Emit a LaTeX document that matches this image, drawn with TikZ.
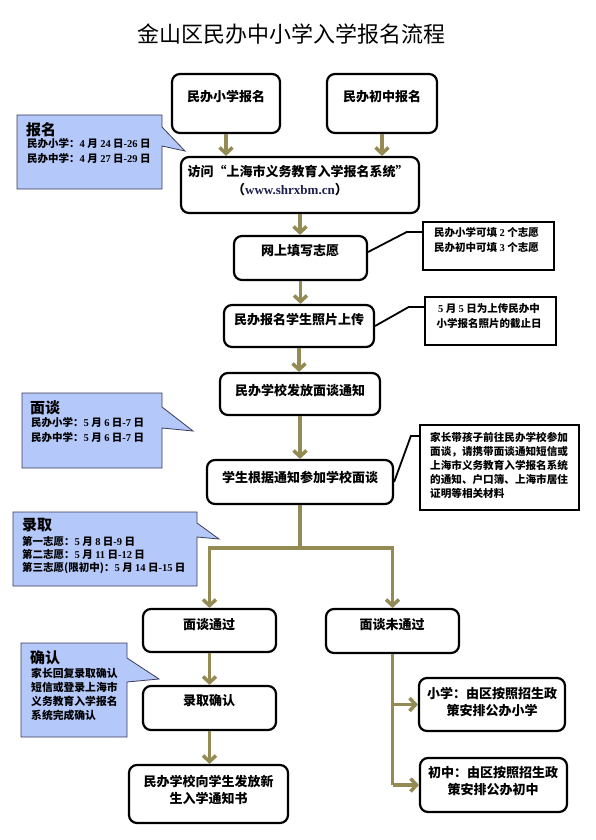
\documentclass[tikz,border=0pt]{standalone}
\usepackage{fontspec}
\setmainfont{Noto Sans CJK SC}
\newfontfamily\tm{Liberation Serif}
\usetikzlibrary{arrows.meta,calc}
\definecolor{olivec}{RGB}{148,138,84}
\definecolor{cfill}{RGB}{180,200,250}
\definecolor{cline}{RGB}{60,60,90}
\definecolor{urlc}{RGB}{30,30,80}
\newcommand\tmn[1]{{\tm\bfseries #1}}
\begin{document}
\begin{tikzpicture}[x=1pt,y=-1pt,
  box/.style={draw=black,line width=2.2pt,rounded corners=8pt,fill=white,inner sep=0pt},
  notebox/.style={draw=black,line width=2.2pt,fill=white,inner sep=0pt},
  txt/.style={font=\fontsize{13}{17}\selectfont\bfseries,align=center,inner sep=0pt},
  ntxt/.style={font=\fontsize{10.5}{15}\selectfont\bfseries,align=left,inner sep=0pt,anchor=north west},
  head/.style={font=\fontsize{15}{18}\selectfont\bfseries,inner sep=0pt,anchor=west},
  callout/.style={draw=cline,line width=0.8pt,fill=cfill},
  arr/.style={draw=olivec,line width=3.5pt,-{Straight Barb[length=6pt,width=13pt]}},
  flow/.style={draw=olivec,line width=3.5pt},
  lead/.style={draw=black,line width=1.8pt}]
\useasboundingbox (0,0) rectangle (596,840);
\fill[white] (0,0) rectangle (596,840);

\node[font=\fontsize{22}{26}\selectfont,inner sep=0pt] (title) at (291,34) {金山区民办中小学入学报名流程};

% main boxes
\node[box,minimum width=108pt,minimum height=59pt] (b1) at (226,103.5) {};
\node[txt] at (226,97) {民办小学报名};
\node[box,minimum width=110pt,minimum height=59pt] (b2) at (382,103.5) {};
\node[txt] at (382,97) {民办初中报名};
\node[box,minimum width=238pt,minimum height=56pt] (visit) at (300,185) {};
\node[txt] at (298,172) {访问“上海市义务教育入学报名系统”};
\node[txt] at (290,190) {（\textcolor{urlc}{\tmn{www.shrxbm.cn}}）};
\node[box,minimum width=133pt,minimum height=44pt] (net) at (300.5,258) {};
\node[txt] at (300,251) {网上填写志愿};
\node[box,minimum width=150pt,minimum height=42pt] (photo) at (299,326) {};
\node[txt] at (299,320) {民办报名学生照片上传};
\node[box,minimum width=160pt,minimum height=42pt] (issue) at (300,394) {};
\node[txt] at (300,391) {民办学校发放面谈通知};
\node[box,minimum width=186pt,minimum height=44pt] (iv) at (300,482) {};
\node[txt] at (300,477) {学生根据通知参加学校面谈};
\node[box,minimum width=133pt,minimum height=43pt] (pass) at (209.5,630.5) {};
\node[txt] at (209,625) {面谈通过};
\node[box,minimum width=133pt,minimum height=44pt] (conf) at (209.5,708) {};
\node[txt] at (209,701) {录取确认};
\node[box,minimum width=159pt,minimum height=58pt] (final) at (208.5,794) {};
\node[txt] at (208.5,789.5) {民办学校向学生发放新\\生入学通知书};
\node[box,minimum width=133pt,minimum height=44pt] (fail) at (392.5,631) {};
\node[txt] at (392,625) {面谈未通过};
\node[box,minimum width=146pt,minimum height=53pt] (c1) at (492,704.5) {};
\node[txt] at (492,702.5) {小学：由区按照招生政\\策安排公办小学};
\node[box,minimum width=147pt,minimum height=54pt] (c2) at (493.5,785) {};
\node[txt] at (493,781.5) {初中：由区按照招生政\\策安排公办初中};

% notes
\node[notebox,minimum width=131pt,minimum height=48pt] (n1) at (488.5,246) {};
\node[ntxt] at (434,227.5) {民办小学可填 \tmn{2} 个志愿\\民办初中可填 \tmn{3} 个志愿};
\node[notebox,minimum width=131pt,minimum height=48pt] (n2) at (490.5,321) {};
\node[ntxt,anchor=center,align=center] at (489,316.5) {\tmn{5} 月 \tmn{5} 日为上传民办中\\小学报名照片的截止日};
\node[notebox,minimum width=159pt,minimum height=85pt] (n3) at (499.5,467.5) {};
\node[ntxt,font=\fontsize{10.6}{14}\selectfont\bfseries] at (430,432.5) {家长带孩子前往民办学校参加\\面谈，请携带面谈通知短信或\\上海市义务教育入学报名系统\\的通知、户口簿、上海市居住\\证明等相关材料};

\draw[lead] ($(n1.north west)+(0,11)$) -- ++(-15,0) -- ($(net.east)+(0,-6)$);
\draw[lead] ($(n2.north west)+(0,11)$) -- ++(-15,0) -- (photo.east);
\draw[lead] ($(n3.north west)+(0,12)$) -- ++(-8,0) -- (iv.east);

% callouts
\draw[callout] (17,115) -- (162,115) -- (162,127) -- (185,151) -- (162,146) -- (162,189) -- (17,189) -- cycle;
\node[head] at (26,130) {报名};
\node[ntxt] at (27,138.5) {民办小学：\tmn{4} 月 \tmn{24} 日\tmn{-26} 日\\民办中学：\tmn{4} 月 \tmn{27} 日\tmn{-29} 日};

\draw[callout] (22,393) -- (162,393) -- (162,407) -- (193,431) -- (162,428) -- (162,468) -- (22,468) -- cycle;
\node[head] at (30,408) {面谈};
\node[ntxt] at (31,417.5) {民办小学：\tmn{5} 月 \tmn{6} 日\tmn{-7} 日\\民办中学：\tmn{5} 月 \tmn{6} 日\tmn{-7} 日};

\draw[callout] (13,512) -- (197,512) -- (197,523) -- (219,539) -- (197,537) -- (197,586) -- (13,586) -- cycle;
\node[head] at (22,525) {录取};
\node[ntxt,font=\fontsize{10.5}{13}\selectfont\bfseries] at (22,536.5) {第一志愿：\tmn{5} 月 \tmn{8} 日\tmn{-9} 日\\第二志愿：\tmn{5} 月 \tmn{11} 日\tmn{-12} 日\\第三志愿(限初中)：\tmn{5} 月 \tmn{14} 日\tmn{-15} 日};

\draw[callout] (21,643) -- (127,643) -- (127,658) -- (159,679) -- (127,682) -- (127,737) -- (21,737) -- cycle;
\node[head] at (30,658) {确认};
\node[ntxt,font=\fontsize{10.8}{14}\selectfont\bfseries] at (31,667.5) {家长回复录取确认\\短信或登录上海市\\义务教育入学报名\\系统完成确认};

% flow arrows
\draw[arr] (b1.south) -- (b1.south |- visit.north);
\draw[arr] (b2.south) -- (b2.south |- visit.north);
\draw[arr] (visit.south) -- (visit.south |- net.north);
\draw[arr] (net.south) -- (net.south |- photo.north);
\draw[arr] (photo.south) -- (photo.south |- issue.north);
\draw[arr] (issue.south) -- (issue.south |- iv.north);
\coordinate (split) at (300,548);
\draw[flow] (iv.south) -- (split);
\draw[flow,line cap=rect] (pass.north |- split) -- (fail.north |- split);
\draw[arr] (pass.north |- split) -- (pass.north);
\draw[arr] (fail.north |- split) -- (fail.north);
\draw[arr] (pass.south) -- (pass.south |- conf.north);
\draw[arr] (conf.south) -- (conf.south |- final.north);
\draw[flow] (fail.south) -- (fail.south |- c2.west);
\draw[arr] (fail.south |- c1.west) -- (c1.west);
\draw[arr] (fail.south |- c2.west) -- (c2.west);
\end{tikzpicture}
\end{document}
